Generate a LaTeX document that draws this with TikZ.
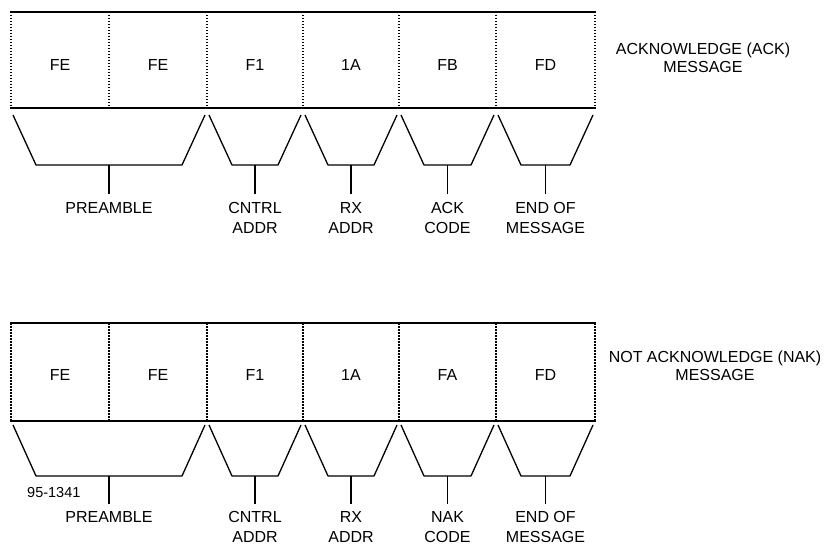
\documentclass[tikz,border=0pt]{standalone}
\usepackage{fontspec}
\setmainfont{Liberation Sans}
\begin{document}
\begin{tikzpicture}[x=1pt,y=-1pt,
  font=\fontsize{16}{20}\selectfont,
  hline/.style={line width=1.9pt},
  vline/.style={line width=1.5pt, dash pattern=on 1.5pt off 1.5pt},
  trap/.style={line width=1.3pt, line join=round},
  stem/.style={line width=1.7pt},
  cell/.style={inner sep=0pt},
  lbl/.style={align=center, inner sep=0pt, anchor=base},
  side/.style={align=center, inner sep=0pt, anchor=base, font=\fontsize{16}{18}\selectfont},
]
\useasboundingbox (0,0) rectangle (824,545);

% ---------------- ACK message ----------------
\foreach \xa/\xb/\t [count=\i] in {11/109/FE,109/207/FE,207/303/F1,303/399/1A,399/496/FB,496/595/FD}
  \node[cell] (a\i) at ({(\xa+\xb)/2},65) {\t};
\foreach \x in {11,109,207,303,399,496,595}
  \draw[vline] (\x,12) -- (\x,108);
\draw[hline] (10,12) -- (596,12);
\draw[hline] (10,108) -- (596,108);
\foreach \xa/\xb/\ly/\txt [count=\n] in {11/207/214/PREAMBLE,207/303/234/{CNTRL\\ADDR},303/399/234/{RX\\ADDR},399/496/234/{ACK\\CODE},496/595/234/{END OF\\MESSAGE}}{
  \draw[trap] (\xa+2,115) -- (\xa+25,165) -- (\xb-25,165) -- (\xb-2,115);
  \coordinate (at\n) at ({(\xa+\xb)/2},165);
  \node[lbl] (al\n) at ({(\xa+\xb)/2},\ly) {\txt};
  \draw[stem] (at\n) -- ([yshift=9pt]at\n |- al\n.north);
}
\node[side] (acktitle) at (703,73) {ACKNOWLEDGE (ACK)\\MESSAGE};

% ---------------- NAK message ----------------
\foreach \xa/\xb/\t [count=\i] in {11/109/FE,109/207/FE,207/303/F1,303/399/1A,399/496/FA,496/595/FD}
  \node[cell] (b\i) at ({(\xa+\xb)/2},375) {\t};
\foreach \x in {11,109,207,303,399,496,595}
  \draw[vline] (\x,323) -- (\x,421);
\draw[hline] (10,323) -- (596,323);
\draw[hline] (10,421) -- (596,421);
\foreach \xa/\xb/\ly/\txt [count=\n] in {11/207/522/PREAMBLE,207/303/542/{CNTRL\\ADDR},303/399/542/{RX\\ADDR},399/496/542/{NAK\\CODE},496/595/542/{END OF\\MESSAGE}}{
  \draw[trap] (\xa+2,425) -- (\xa+25,476) -- (\xb-25,476) -- (\xb-2,425);
  \coordinate (bt\n) at ({(\xa+\xb)/2},476);
  \node[lbl] (bl\n) at ({(\xa+\xb)/2},\ly) {\txt};
  \draw[stem] (bt\n) -- ([yshift=7pt]bt\n |- bl\n.north);
}
\node[side] (naktitle) at (715,380) {NOT ACKNOWLEDGE (NAK)\\MESSAGE};

\node[anchor=base west, inner sep=0pt, font=\fontsize{14.5}{16}\selectfont] (fignum) at (27,497) {95-1341};
\end{tikzpicture}
\end{document}
